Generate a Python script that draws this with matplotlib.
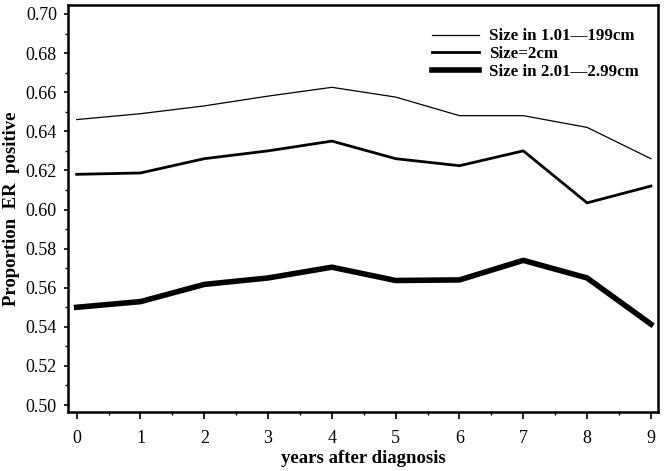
import matplotlib
matplotlib.use("Agg")
import matplotlib.pyplot as plt
from matplotlib.ticker import MultipleLocator

years = [0, 1, 2, 3, 4, 5, 6, 7, 8, 9]
size_small = [0.646, 0.649, 0.653, 0.658, 0.6625, 0.6575, 0.648, 0.648, 0.642, 0.626]
size_2 = [0.618, 0.6187, 0.626, 0.630, 0.635, 0.626, 0.6224, 0.630, 0.6034, 0.612]
size_large = [0.550, 0.5529, 0.5617, 0.565, 0.5705, 0.5637, 0.564, 0.574, 0.565, 0.5414]
labels = ["Size in 1.01\u2014199cm", "Size=2cm", "Size in 2.01\u20142.99cm"]
yticks = [0.50, 0.52, 0.54, 0.56, 0.58, 0.60, 0.62, 0.64, 0.66, 0.68, 0.70]

plt.rcParams['font.family'] = ['Liberation Serif', 'DejaVu Serif']

fig = plt.figure(figsize=(6.64, 4.71), dpi=100)
ax = fig.add_axes([0.1024, 0.1259, 0.889, 0.8635])

ax.plot(years, size_small, color='black', lw=0.9, label=labels[0])
ax.plot(years, size_2, color='black', lw=2.0, label=labels[1])
ax.plot(years, size_large, color='black', lw=4.0, label=labels[2])

ax.set_xlim(-0.136, 9.116)
ax.set_ylim(0.4966, 0.7046)
ax.set_xticks(years)
ax.set_yticks(yticks)
ax.set_yticklabels([f"{v:.2f}" for v in yticks])
ax.xaxis.set_minor_locator(MultipleLocator(0.5))
ax.yaxis.set_minor_locator(MultipleLocator(0.01))
ax.tick_params(which='major', direction='out', width=1.2, labelsize=13)
ax.tick_params(axis='x', which='major', length=5, pad=8)
ax.tick_params(axis='y', which='major', length=3, pad=5)
ax.tick_params(which='minor', direction='out', length=2.5, width=1.0)

for s in ax.spines.values():
    s.set_linewidth(1.8)

ax.set_xlabel("years after diagnosis", fontsize=13.5, fontweight='bold', labelpad=2)
ax.set_ylabel("Proportion  ER  positive", fontsize=13.5, fontweight='bold', labelpad=4)

leg = ax.legend(loc='upper left', bbox_to_anchor=(0.650, 0.9395),
                bbox_transform=fig.transFigure, frameon=False,
                prop={'weight': 'bold', 'size': 12.2}, handlelength=2.78,
                handletextpad=0.6, labelspacing=0.1, borderpad=0, borderaxespad=0)

fig.savefig("out.png", dpi=100)
